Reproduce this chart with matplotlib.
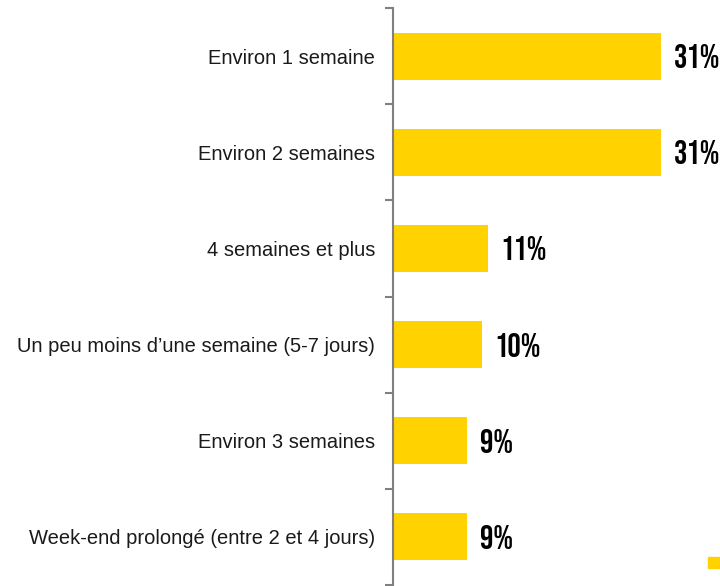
import matplotlib.pyplot as plt
import numpy as np
from matplotlib.patches import Rectangle

# data, top to bottom
categories = ['Environ 1 semaine', 'Environ 2 semaines', '4 semaines et plus',
              'Un peu moins d\u2019une semaine (5-7 jours)', 'Environ 3 semaines',
              'Week-end prolong\u00e9 (entre 2 et 4 jours)']
values = [31.0, 31.0, 11.0, 10.3, 8.6, 8.6]
value_labels = ['31%', '31%', '11%', '10%', '9%', '9%']

yellow = '#FFD200'

fig = plt.figure(figsize=(7.2, 5.86), dpi=100)
ax = fig.add_axes([393 / 720, 1 / 586, 1 - 393 / 720, 577 / 586])

y = np.arange(len(categories))
ax.barh(y, values, height=0.49, color=yellow)

# value labels
for yi, v, lab in zip(y, values, value_labels):
    ax.annotate(lab, (v, yi), xytext=(9, 0), textcoords='offset points',
                va='center', ha='left', fontsize=24, color='black',
                family=['Bebas Neue', 'DejaVu Sans'])

ax.set_xlim(0, 37.8)
ax.set_ylim(len(categories) - 0.5, -0.5)

# ticks at category boundaries, labels at centers
ax.set_yticks(np.arange(len(categories) + 1) - 0.5)
ax.set_yticklabels([])
ax.set_yticks(y, minor=True)
ax.set_yticklabels(categories, minor=True, fontsize=14.5, color='#1a1a1a',
                   family=['Liberation Sans', 'DejaVu Sans'])
ax.tick_params(axis='y', which='major', length=6, width=1.5, color='#808080', direction='out')
ax.tick_params(axis='y', which='minor', length=0, pad=13)
ax.set_xticks([])

for s in ['top', 'right', 'bottom']:
    ax.spines[s].set_visible(False)
ax.spines['left'].set_color('#808080')
ax.spines['left'].set_linewidth(1.5)

# small legend marker bottom right
fig.add_artist(Rectangle((708 / 720, 18 / 586), 12 / 720, 11 / 586,
                         transform=fig.transFigure, color=yellow))

fig.savefig('out.png', dpi=100)
